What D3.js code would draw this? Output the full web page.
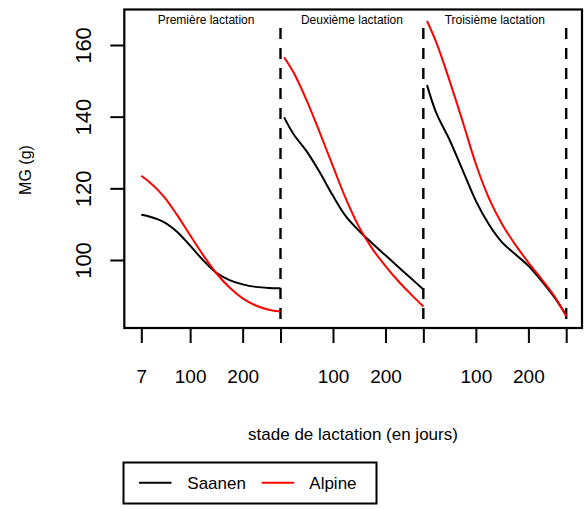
<!DOCTYPE html>
<html><head><meta charset="utf-8">
<script src="https://cdn.jsdelivr.net/npm/d3@7"></script>
<style>body{margin:0;background:#fff;} svg{display:block;} text{font-family:"Liberation Sans",Arial,sans-serif;fill:#000;}</style>
</head><body>
<svg id="c" width="584" height="509"></svg>
<script>
// ---- data ----
const days = [7, 25, 50, 75, 100, 125, 150, 175, 200, 225, 250, 272];
const lactLength = 272;
const lactations = ["Première lactation", "Deuxième lactation", "Troisième lactation"];
const saanen1 = [112.6, 112.0, 110.6, 107.9, 104.0, 99.9, 96.4, 94.4, 93.2, 92.5, 92.2, 92.1];
const saanen2 = [139.8, 135.1, 130.3, 124.4, 117.9, 112.1, 108.1, 104.6, 101.3, 98.0, 94.7, 91.8];
const saanen3 = [148.8, 140.9, 133.5, 125.0, 116.5, 109.9, 104.9, 101.6, 98.4, 94.2, 89.5, 84.6];
const alpine1 = [123.5, 121.4, 117.7, 112.6, 106.9, 101.3, 96.3, 92.3, 89.3, 87.3, 86.1, 85.6];
const alpine2 = [156.6, 152.3, 144.5, 135.5, 126.1, 116.9, 109.1, 103.1, 98.3, 94.0, 90.2, 87.0];
const alpine3 = [166.7, 160.6, 150.0, 138.6, 126.8, 117.2, 110.0, 104.3, 99.3, 94.7, 89.8, 84.3];
const yTicks = [100, 120, 140, 160];
const xTickDays = [7, 100, 200];       // labelled ticks in first lactation
const xTickDaysLater = [100, 200];     // labelled ticks in later lactations
const seriesNames = ["Saanen", "Alpine"];
const seriesColors = ["#000000", "#ff0000"];

const saanen = [saanen1, saanen2, saanen3];
const alpine = [alpine1, alpine2, alpine3];

// ---- layout ----
const svg = d3.select("#c");
const box = {left: 124.3, right: 582, top: 9.5, bottom: 328};
const x = d3.scaleLinear().domain([7, 3 * lactLength]).range([141.3, 566.2]);
const y = d3.scaleLinear().domain([100, 160]).range([260, 45]);

// dashed separators
for (let k = 1; k <= 3; k++) {
  svg.append("line")
    .attr("x1", x(k * lactLength)).attr("x2", x(k * lactLength))
    .attr("y1", 28).attr("y2", 319)
    .attr("stroke", "#000").attr("stroke-width", 2.4)
    .attr("stroke-dasharray", "11,9");
}

// curves
const line = d3.line().x(d => x(d[0])).y(d => y(d[1])).curve(d3.curveCatmullRom.alpha(0.5));
function drawSeries(arrs, color) {
  arrs.forEach((vals, k) => {
    const pts = days.map((d, i) => [k * lactLength + d, vals[i]]);
    svg.append("path").attr("d", line(pts)).attr("fill", "none")
      .attr("stroke", color).attr("stroke-width", 2);
  });
}
drawSeries(saanen, seriesColors[0]);
drawSeries(alpine, seriesColors[1]);

// box
svg.append("rect").attr("x", box.left).attr("y", box.top)
  .attr("width", box.right - box.left).attr("height", box.bottom - box.top)
  .attr("fill", "none").attr("stroke", "#000").attr("stroke-width", 2.2);

// y axis
const yAxis = svg.append("g").attr("transform", `translate(${box.left},0)`)
  .call(d3.axisLeft(y).tickValues(yTicks).tickSize(14).tickPadding(0).tickFormat(d3.format("d")));
yAxis.select(".domain").remove();
yAxis.selectAll(".tick line").attr("stroke-width", 2);
yAxis.selectAll(".tick text").attr("x", null).attr("dy", null)
  .attr("transform", "translate(-33.6,0) rotate(-90)")
  .attr("text-anchor", "middle").attr("font-size", 22)
  .style("font-family", '"Liberation Sans",Arial,sans-serif');

// x axis
const tickVals = [];
const tickLabels = new Map();
for (let k = 0; k < 3; k++) {
  const labs = k === 0 ? xTickDays : xTickDaysLater;
  labs.forEach(d => { tickVals.push(k * lactLength + d); tickLabels.set(k * lactLength + d, String(d)); });
  tickVals.push((k + 1) * lactLength);
  tickLabels.set((k + 1) * lactLength, "");
}
const xAxis = svg.append("g").attr("transform", `translate(0,${box.bottom})`)
  .call(d3.axisBottom(x).tickValues(tickVals).tickSize(15).tickPadding(0).tickFormat(d => tickLabels.get(d)));
xAxis.select(".domain").remove();
xAxis.selectAll(".tick line").attr("stroke-width", 2);
xAxis.selectAll(".tick text").attr("y", 55).attr("dy", null)
  .attr("font-size", 19).style("font-family", '"Liberation Sans",Arial,sans-serif');

// panel titles
lactations.forEach((t, k) => {
  svg.append("text").attr("x", x(k * lactLength + lactLength / 2) - (k === 0 ? 3 : 0)).attr("y", 24)
    .attr("text-anchor", "middle").attr("font-size", 12).attr("fill", "#222").text(t);
});

// axis titles
svg.append("text").attr("transform", "translate(31,170) rotate(-90)")
  .attr("text-anchor", "middle").attr("font-size", 16).text("MG (g)");
svg.append("text").attr("x", 353).attr("y", 440)
  .attr("text-anchor", "middle").attr("font-size", 17).text("stade de lactation (en jours)");

// legend
const lg = svg.append("g");
lg.append("rect").attr("x", 123.5).attr("y", 462.5).attr("width", 253).attr("height", 41)
  .attr("fill", "#fff").attr("stroke", "#000").attr("stroke-width", 2);
const legendX = [[139, 187.3], [261.7, 309.3]];
seriesNames.forEach((n, i) => {
  lg.append("line").attr("x1", legendX[i][0]).attr("x2", legendX[i][0] + 32.5)
    .attr("y1", 482.7).attr("y2", 482.7).attr("stroke", seriesColors[i]).attr("stroke-width", 2);
  lg.append("text").attr("x", legendX[i][1]).attr("y", 489.3).attr("font-size", 17).text(n);
});
</script>
</body></html>
